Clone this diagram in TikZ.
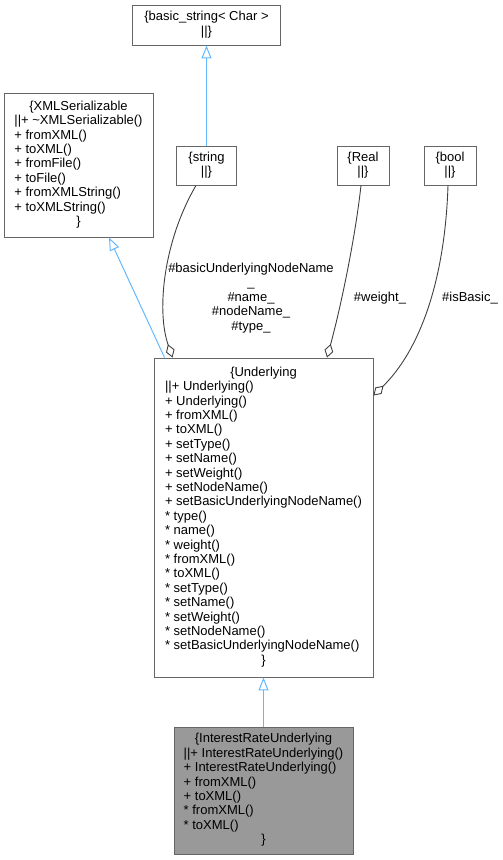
\documentclass[tikz,border=0pt]{standalone}
\usepackage{fontspec}
\setmainfont{Liberation Sans}
\usetikzlibrary{arrows.meta,positioning}
\definecolor{inherit}{RGB}{99,184,255}
\definecolor{usage}{RGB}{64,64,64}
\definecolor{clsframe}{RGB}{102,102,102}
\definecolor{current}{RGB}{153,153,153}

\begin{document}
\begin{tikzpicture}[
  x=1pt, y=-1pt,
  every node/.style={font=\fontsize{13}{14.4}\selectfont},
  cls/.style={draw=clsframe, fill=white, line width=0.9pt, inner sep=0pt},
  inh/.style={draw=inherit, line width=1pt,
              -{Triangle[open, length=13pt, width=10pt]}},
  member/.style={draw=usage, line width=0.9pt,
                 -{Diamond[open, length=14pt, width=9pt]}}
]
\useasboundingbox (0,0) rectangle (503,860);

% base classes
\node[cls, minimum width=148pt, minimum height=40pt] (basicstr) at (206.5,25)
  {\begin{tabular}{@{}c@{}}\{basic\_string< Char >\\ ||\}\end{tabular}};

\node[cls, minimum width=149pt, minimum height=144pt] (xmlser) at (78.5,165)
  {\begin{tabular}{@{}l@{}}
   \multicolumn{1}{@{}c@{}}{\{XMLSerializable}\\
   ||+ \textasciitilde XMLSerializable()\\
   + fromXML()\\
   + toXML()\\
   + fromFile()\\
   + toFile()\\
   + fromXMLString()\\
   + toXMLString()\\
   \multicolumn{1}{@{}c@{}}{\}}
   \end{tabular}};

% member types
\node[cls, minimum width=60pt, minimum height=39pt] (str) at (206.5,165.5)
  {\begin{tabular}{@{}c@{}}\{string\\ ||\}\end{tabular}};
\node[cls, minimum width=52pt, minimum height=39pt] (real) at (363,165.5)
  {\begin{tabular}{@{}c@{}}\{Real\\ ||\}\end{tabular}};
\node[cls, minimum width=52pt, minimum height=39pt] (boolc) at (450,165.5)
  {\begin{tabular}{@{}c@{}}\{bool\\ ||\}\end{tabular}};

% Underlying
\node[cls, minimum width=219pt, minimum height=319pt] (underlying) at (263.5,517.5)
  {\begin{tabular}{@{}l@{}}
   \multicolumn{1}{@{}c@{}}{\{Underlying}\\
   ||+ Underlying()\\
   + Underlying()\\
   + fromXML()\\
   + toXML()\\
   + setType()\\
   + setName()\\
   + setWeight()\\
   + setNodeName()\\
   + setBasicUnderlyingNodeName()\\
   {*} type()\\
   {*} name()\\
   {*} weight()\\
   {*} fromXML()\\
   {*} toXML()\\
   {*} setType()\\
   {*} setName()\\
   {*} setWeight()\\
   {*} setNodeName()\\
   {*} setBasicUnderlyingNodeName()\\
   \multicolumn{1}{@{}c@{}}{\}}
   \end{tabular}};

% InterestRateUnderlying
\node[cls, fill=current, minimum width=179pt, minimum height=127pt] (irunderlying) at (263.5,790.5)
  {\begin{tabular}{@{}l@{}}
   \multicolumn{1}{@{}c@{}}{\{InterestRateUnderlying}\\
   ||+ InterestRateUnderlying()\\
   + InterestRateUnderlying()\\
   + fromXML()\\
   + toXML()\\
   {*} fromXML()\\
   {*} toXML()\\
   \multicolumn{1}{@{}c@{}}{\}}
   \end{tabular}};

% inheritance
\draw[inh] (str.north) -- (basicstr.south);
\draw[inh] ([xshift=11pt]underlying.north west) -- ([xshift=30.5pt]xmlser.south);
\draw[inh] (irunderlying.north) -- (underlying.south);

% members
\draw[member] ([xshift=-10.5pt]str.south) .. controls (164,240) and (156,310) .. ([xshift=19pt]underlying.north west);
\draw[member] ([xshift=-2pt]real.south) .. controls (355,240) and (340,310) .. ([xshift=63.5pt]underlying.north);
\draw[member] ([xshift=-2pt]boolc.south) .. controls (445,280) and (420,350) .. ([yshift=-38pt]underlying.north east);

% member labels
\node[align=center] (lblstr) at (251,298)
  {\#basicUnderlyingNodeName\\\_\\\#name\_\\\#nodeName\_\\\#type\_};
\node[anchor=base] (lblreal) at (380,301.5) {\#weight\_};
\node[anchor=base] (lblbool) at (470,301.5) {\#isBasic\_};

\end{tikzpicture}
\end{document}
